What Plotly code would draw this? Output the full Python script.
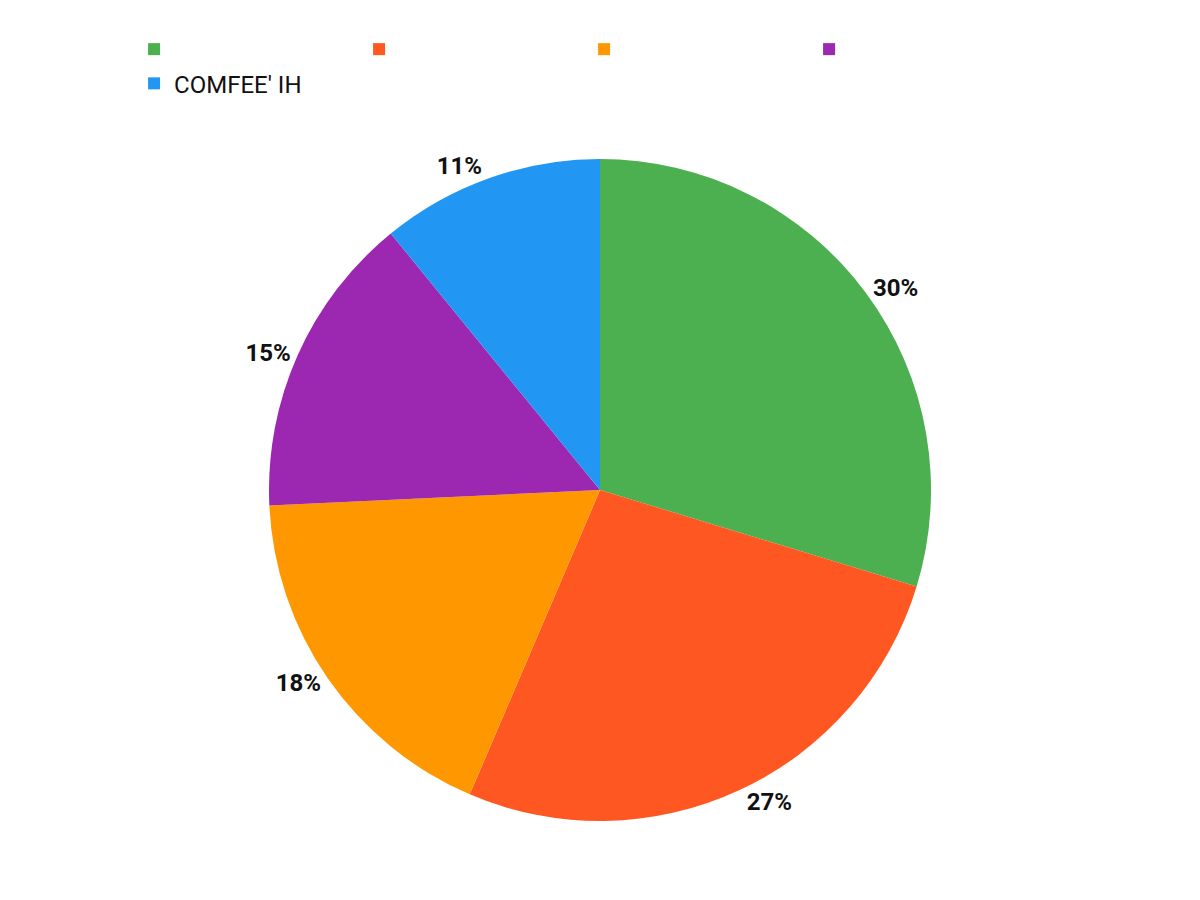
import plotly.graph_objects as go

labels = [" ", "  ", "   ", "    ", "COMFEE' IH"]
values = [30, 27, 18, 15, 11]
colors = ["#4CAF50", "#FF5722", "#FF9800", "#9C27B0", "#2196F3"]
text = ["30%", "27%", "18%", "15%", "11%"]

fig = go.Figure(go.Pie(
    labels=labels, values=values, sort=False, direction="clockwise", rotation=0,
    marker=dict(colors=colors), text=text, textinfo="text", textposition="outside",
    outsidetextfont=dict(family="Roboto", size=24, color="#111"),
    texttemplate="<b>%{text}</b>", hoverinfo="label+percent",
    showlegend=True,
))
fig.update_layout(
    width=1200, height=900, paper_bgcolor="white",
    font=dict(family="Roboto", size=24, color="#111"),
    margin=dict(t=151, b=87, l=140, r=160),
    legend=dict(orientation="h", x=-0.02, xanchor="left", y=1.08, yanchor="bottom",
                entrywidth=180, font=dict(size=24), itemsizing="constant"),
)
fig.write_html("out.html")
